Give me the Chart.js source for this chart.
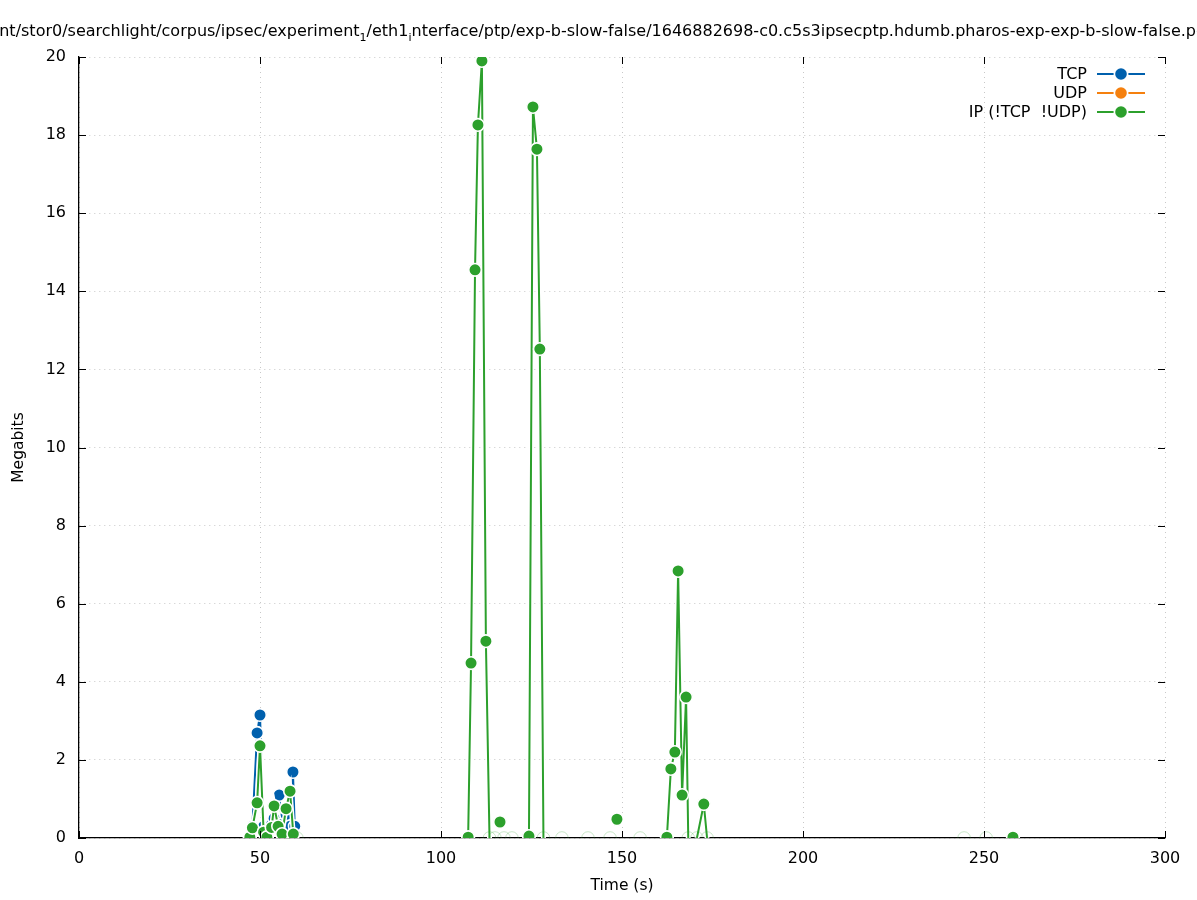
<!DOCTYPE html>
<html>
<head>
<meta charset="utf-8">
<script src="https://cdn.jsdelivr.net/npm/chart.js@4/dist/chart.umd.min.js"></script>
<style>
  html, body { margin: 0; padding: 0; background: #fff; }
  #wrap { width: 1197px; height: 900px; }
</style>
</head>
<body>
<div id="wrap"><canvas id="chart" width="1197" height="900"></canvas></div>
<script>
// --- Data ---
const seriesNames = ["TCP", "UDP", "IP (!TCP  !UDP)"];
const seriesColors = ["#0060ad", "#f5800e", "#2ca02c"];

const tcpTimes  = [47.2, 47.9, 49.2, 50.0, 51.0, 51.9, 53.2, 53.9, 55.3, 56.1, 57.2, 58.3, 59.1, 59.6];
const tcpValues = [0.02, 0.30, 2.69, 3.15, 0.30, 0.02, 0.35, 0.50, 1.10, 0.35, 0.60, 0.30, 1.69, 0.30];

const udpTimes  = [];
const udpValues = [];

// null = no sample (gap in the line)
const ipTimes = [47.2, 47.9, 49.2, 50.0, 51.0, 51.9, 53.2, 53.9, 55.0, 56.1, 57.2, 58.3, 59.2, 60.2,
  107.5, 108.3, 109.4, 110.2, 111.3, 112.4, 113.4, 114.9, 115.6, 116.3, 117.0, 117.4, 119.6,
  124.3, 125.4, 126.5, 127.3, 128.3, 133.4, 140.6, 146.7, 147.6, 148.6, 149.6, 155.0,
  162.4, 163.5, 164.6, 165.5, 166.6, 167.7, 168.3, 170.7, 172.6, 173.5,
  244.5, 250.6, 254.0, 258.0];
const ipValues = [0.02, 0.26, 0.90, 2.36, 0.15, 0.02, 0.27, 0.82, 0.30, 0.10, 0.75, 1.20, 0.10, 0,
  0.02, 4.48, 14.55, 18.26, 19.90, 5.04, 0, 0, null, 0.41, null, 0, 0,
  0.05, 18.72, 17.64, 12.52, 0, 0, 0, 0, null, 0.48, null, 0,
  0.02, 1.77, 2.20, 6.84, 1.10, 3.61, 0, 0, 0.87, 0,
  0, 0, null, 0.02];

const xTickValues = [0, 50, 100, 150, 200, 250, 300];
const yTickValues = [0, 2, 4, 6, 8, 10, 12, 14, 16, 18, 20];

const titleParts = [
  { t: "/mnt/stor0/searchlight/corpus/ipsec/experiment" }, { t: "1", sub: true },
  { t: "/eth1" }, { t: "i", sub: true },
  { t: "nterface/ptp/exp-b-slow-false/1646882698-c0.c5s3ipsecptp.hdumb.pharos-exp-exp-b-slow-false.pcap" }
];

// --- Helpers ---
const FONT = "'DejaVu Sans', sans-serif";
function toPoints(xs, ys){ return xs.map((x,i)=>({ x: x, y: ys[i] })); }
function flatSeg(ctx){ return ctx.p0.parsed.y < 0.15 && ctx.p1.parsed.y < 0.15; }

function lineSet(label, xs, ys, color, order){
  return {
    label: label,
    data: toPoints(xs, ys),
    borderColor: color,
    borderWidth: 2,
    spanGaps: false,
    pointRadius: 6.3,
    pointHoverRadius: 6.3,
    pointBorderWidth: c => (c.raw && c.raw.y === 0) ? 1 : 1.6,
    pointBackgroundColor: c => (c.raw && c.raw.y === 0) ? 'rgba(255,255,255,0)' : color,
    pointBorderColor: c => (c.raw && c.raw.y === 0) ? color + '40' : '#ffffff',
    segment: { borderColor: c => flatSeg(c) ? 'rgba(0,0,0,0)' : undefined },
    order: order
  };
}
function underSet(xs, ys, order){
  return {
    label: '_under',
    data: toPoints(xs, ys),
    borderColor: '#ffffff',
    borderWidth: 5,
    spanGaps: false,
    pointRadius: 0,
    pointHoverRadius: 0,
    segment: { borderColor: c => flatSeg(c) ? 'rgba(0,0,0,0)' : undefined },
    order: order
  };
}

// --- Plugin: title with subscripts, mirrored inward ticks, legend ---
const decor = {
  id: 'decor',
  afterDraw(chart){
    const ctx = chart.ctx;
    const a = chart.chartArea;
    const xs = chart.scales.x, ys = chart.scales.y;
    ctx.save();

    // title (wider than the canvas, centred, so both ends are cut)
    const big = '16px ' + FONT, small = '11px ' + FONT;
    let total = 0;
    titleParts.forEach(p => { ctx.font = p.sub ? small : big; total += ctx.measureText(p.t).width; });
    let tx = chart.width / 2 - total / 2 + 3;
    ctx.fillStyle = '#000';
    ctx.textBaseline = 'alphabetic';
    ctx.textAlign = 'left';
    titleParts.forEach(p => {
      ctx.font = p.sub ? small : big;
      ctx.fillText(p.t, tx, p.sub ? 41 : 36);
      tx += ctx.measureText(p.t).width;
    });

    // inward ticks on all sides
    ctx.strokeStyle = '#000';
    ctx.lineWidth = 1;
    const tl = 7;
    ctx.beginPath();
    xTickValues.forEach(v => {
      const px = Math.round(xs.getPixelForValue(v)) + 0.5;
      ctx.moveTo(px, a.bottom); ctx.lineTo(px, a.bottom - tl);
      ctx.moveTo(px, a.top); ctx.lineTo(px, a.top + tl);
    });
    yTickValues.forEach(v => {
      const py = Math.round(ys.getPixelForValue(v)) + 0.5;
      ctx.moveTo(a.left, py); ctx.lineTo(a.left + tl, py);
      ctx.moveTo(a.right, py); ctx.lineTo(a.right - tl, py);
    });
    ctx.stroke();

    // legend
    ctx.font = '16px ' + FONT;
    ctx.textAlign = 'right';
    ctx.textBaseline = 'middle';
    seriesNames.forEach((name, i) => {
      const y = 74 + i * 19;
      ctx.fillStyle = '#000';
      ctx.fillText(name, 1087, y + 1);
      ctx.strokeStyle = seriesColors[i];
      ctx.lineWidth = 2;
      ctx.beginPath(); ctx.moveTo(1097, y); ctx.lineTo(1145, y); ctx.stroke();
      ctx.beginPath(); ctx.arc(1121, y, 7.5, 0, Math.PI * 2);
      ctx.fillStyle = '#fff'; ctx.fill();
      ctx.beginPath(); ctx.arc(1121, y, 5.8, 0, Math.PI * 2);
      ctx.fillStyle = seriesColors[i]; ctx.fill();
    });
    ctx.restore();
  }
};

new Chart(document.getElementById('chart').getContext('2d'), {
  type: 'line',
  data: {
    datasets: [
      underSet(tcpTimes, tcpValues, 8),
      lineSet(seriesNames[0], tcpTimes, tcpValues, seriesColors[0], 7),
      underSet(udpTimes, udpValues, 6),
      lineSet(seriesNames[1], udpTimes, udpValues, seriesColors[1], 5),
      underSet(ipTimes, ipValues, 4),
      lineSet(seriesNames[2], ipTimes, ipValues, seriesColors[2], 3)
    ]
  },
  options: {
    responsive: false,
    animation: false,
    layout: { padding: { top: 57, right: 32, left: 0, bottom: 0 } },
    plugins: { legend: { display: false }, title: { display: false }, tooltip: { enabled: false } },
    scales: {
      x: {
        type: 'linear', min: 0, max: 300,
        afterFit: s => { s.height = 62; },
        afterBuildTicks: s => { s.ticks = xTickValues.map(v => ({ value: v })); },
        grid: { color: '#c8c8c8', drawTicks: false, lineWidth: 1 },
        border: { display: true, color: '#000', width: 1.3, dash: [1, 4] },
        ticks: { padding: 11, color: '#000', font: { family: FONT, size: 16 }, maxRotation: 0 },
        title: { display: true, text: 'Time (s)', color: '#000', font: { family: FONT, size: 15.5 }, padding: { top: 0, bottom: 5 } }
      },
      y: {
        type: 'linear', min: 0, max: 20,
        afterFit: s => { s.width = 79; },
        afterBuildTicks: s => { s.ticks = yTickValues.map(v => ({ value: v })); },
        grid: { color: '#c8c8c8', drawTicks: false, lineWidth: 1 },
        border: { display: true, color: '#000', width: 1.3, dash: [1, 4] },
        ticks: { padding: 13, color: '#000', font: { family: FONT, size: 16 } },
        title: { display: true, text: 'Megabits', color: '#000', font: { family: FONT, size: 15.5 }, padding: { top: 10, bottom: 0 } }
      }
    }
  },
  plugins: [decor]
});
</script>
</body>
</html>
